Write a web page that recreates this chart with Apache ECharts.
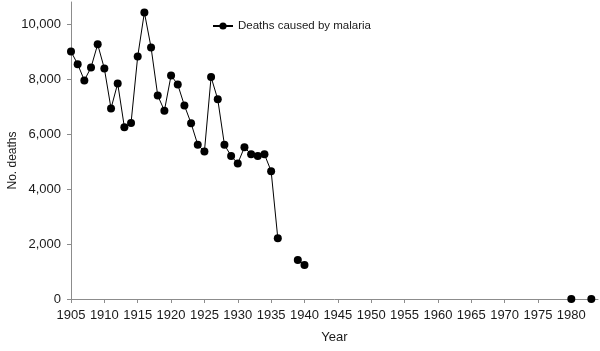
<!DOCTYPE html>
<html>
<head>
<meta charset="utf-8">
<script src="https://cdn.jsdelivr.net/npm/echarts@6/dist/echarts.min.js"></script>
<style>
  html, body { margin: 0; padding: 0; background: #fff; }
  #chart { width: 600px; height: 351px; }
</style>
</head>
<body>
<div id="chart"></div>
<script>
// malaria deaths per year, gaps are years with no data
var years = [1905, 1906, 1907, 1908, 1909, 1910, 1911, 1912, 1913, 1914,
    1915, 1916, 1917, 1918, 1919, 1920, 1921, 1922, 1923, 1924,
    1925, 1926, 1927, 1928, 1929, 1930, 1931, 1932, 1933, 1934,
    1935, 1936, 1937, 1938, 1939, 1940, 1941, 1979, 1980, 1981, 1983];
var deaths = [9000, 8540, 7950, 8420, 9260, 8380, 6930, 7840, 6250, 6400,
    8820, 10420, 9150, 7400, 6850, 8130, 7800, 7040, 6390, 5610,
    5360, 8070, 7260, 5610, 5200, 4930, 5520, 5260, 5200, 5260,
    4650, 2210, null, null, 1420, 1240, null, null, 0, null, 0];
var xTicks = [1905, 1910, 1915, 1920, 1925, 1930, 1935, 1940, 1945, 1950,
    1955, 1960, 1965, 1970, 1975, 1980];
var yTicks = [0, 2000, 4000, 6000, 8000, 10000];

var seriesData = years.map(function (y, i) {
    return [y, deaths[i] === null ? '-' : deaths[i]];
});

var myChart = echarts.init(document.getElementById('chart'));

var axisGray = '#8c8c8c';
var textColor = '#1a1a1a';
var font = 'Liberation Sans, Arial, sans-serif';

option = {
    animation: false,
    textStyle: { fontFamily: font },
    grid: { left: 71, right: 2, top: 2, bottom: 52, outerBoundsMode: 'none' },
    legend: {
        left: 212,
        top: 20,
        padding: 0,
        itemWidth: 20,
        itemHeight: 9,
        textStyle: { fontSize: 11.5, color: textColor, fontFamily: font },
        data: ['Deaths caused by malaria']
    },
    xAxis: {
        type: 'value',
        min: 1905,
        max: 1984,
        name: 'Year',
        nameLocation: 'middle',
        nameGap: 32,
        nameTextStyle: { fontSize: 13, color: textColor },
        splitLine: { show: false },
        axisLine: { lineStyle: { color: axisGray } },
        axisTick: { length: 4, lineStyle: { color: axisGray }, customValues: xTicks },
        axisLabel: {
            customValues: xTicks,
            margin: 10,
            fontSize: 13,
            color: textColor,
            formatter: function (v) { return String(v); }
        }
    },
    yAxis: {
        type: 'value',
        min: 0,
        max: 10800,
        name: 'No. deaths',
        nameLocation: 'middle',
        nameGap: 52,
        nameMoveOverlap: false,
        nameTextStyle: { fontSize: 12, color: textColor, padding: [0, 20, 0, 0] },
        splitLine: { show: false },
        axisLine: { show: true, lineStyle: { color: axisGray } },
        axisTick: { show: true, length: 4, lineStyle: { color: axisGray }, customValues: yTicks },
        axisLabel: {
            customValues: yTicks,
            margin: 10,
            fontSize: 13,
            color: textColor,
            formatter: function (v) { return v.toLocaleString('en-US'); }
        }
    },
    series: [{
        name: 'Deaths caused by malaria',
        type: 'line',
        symbol: 'circle',
        symbolSize: 8,
        connectNulls: false,
        itemStyle: { color: '#000' },
        lineStyle: { color: '#000', width: 1 },
        data: seriesData
    }]
};

myChart.setOption(option);
</script>
</body>
</html>
